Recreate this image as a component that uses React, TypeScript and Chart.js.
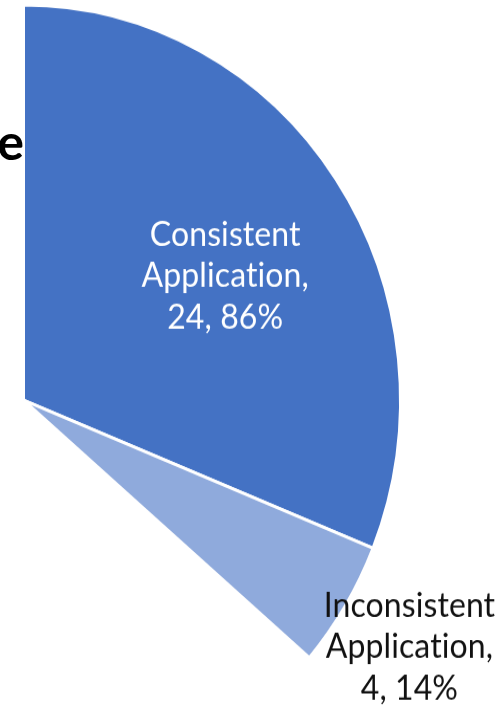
import React, { useEffect, useRef } from "react";
import { Chart, registerables } from "chart.js";

Chart.register(...registerables);

const categories = ["Consistent Application", "Inconsistent Application"];
const counts = [24, 4];
const percents = ["86%", "14%"];
const sliceColors = ["#4472C4", "#8FAADC"];
const labelColors = ["#ffffff", "#111111"];
const titleFragment = "e";

const FONT = "Lato, 'Open Sans', sans-serif";

const labelPlugin = {
  id: "sliceLabels",
  afterDatasetsDraw(chart: any) {
    const ctx = chart.ctx;
    const meta = chart.getDatasetMeta(0);
    meta.data.forEach((arc: any, i: number) => {
      const p = arc.getProps(["x", "y", "startAngle", "endAngle", "outerRadius"], true);
      const mid = (p.startAngle + p.endAngle) / 2 + (i === 0 ? 0.05 : 0.015);
      const f = i === 0 ? 0.625 : 1.21;
      const cx = p.x + Math.cos(mid) * p.outerRadius * f;
      const cy = p.y + Math.sin(mid) * p.outerRadius * f + (i === 0 ? 3.5 : -7.5);
      const words = categories[i].split(" ");
      const lines = [words[0], words.slice(1).join(" ") + ",", `${counts[i]}, ${percents[i]}`];
      const lh = 39.6;
      ctx.save();
      ctx.fillStyle = labelColors[i];
      ctx.font = `32px ${FONT}`;
      try {
        (ctx as any).textRendering = "optimizeSpeed";
        (ctx as any).letterSpacing = "0.1px";
      } catch (e) {}
      ctx.textAlign = "center";
      ctx.textBaseline = "middle";
      lines.forEach((t, k) => {
        ctx.fillText(t, cx, cy + (k - 1) * lh);
      });
      ctx.restore();
    });
  },
};

export default function App() {
  const ref = useRef<HTMLCanvasElement | null>(null);
  useEffect(() => {
    if (!ref.current) return;
    const chart = new Chart(ref.current, {
      type: "pie",
      data: {
        labels: categories,
        datasets: [
          {
            data: counts,
            backgroundColor: sliceColors,
            borderColor: "#ffffff",
            borderWidth: 3,
          },
        ],
      },
      options: {
        responsive: false,
        animation: false,
        devicePixelRatio: 1,
        rotation: 0,
        circumference: 130.7,
        radius: 377,
        layout: { padding: { left: 24, right: 96, top: 24, bottom: 62 } },
        plugins: {
          legend: { display: false },
          tooltip: { enabled: false },
          title: { display: false },
        },
      },
      plugins: [labelPlugin],
    });
    return () => chart.destroy();
  }, []);

  return (
    <div
      style={{
        position: "absolute",
        left: 0,
        top: 0,
        width: 496,
        height: 707,
        overflow: "hidden",
        background: "#ffffff",
      }}
    >
      <div
        style={{
          position: "absolute",
          left: 0,
          top: 0,
          width: 496,
          height: 707,
          transform: "scaleY(1.048)",
          transformOrigin: "24px 400px",
        }}
      >
        <canvas ref={ref} width={496} height={707} style={{ display: "block" }} />
      </div>
      <div
        style={{
          position: "absolute",
          left: -100,
          width: 124,
          top: 116,
          textAlign: "right",
          fontFamily: FONT,
          fontWeight: 700,
          fontSize: 50,
          lineHeight: "50px",
          color: "#000",
        }}
      >
        {titleFragment}
      </div>
    </div>
  );
}
